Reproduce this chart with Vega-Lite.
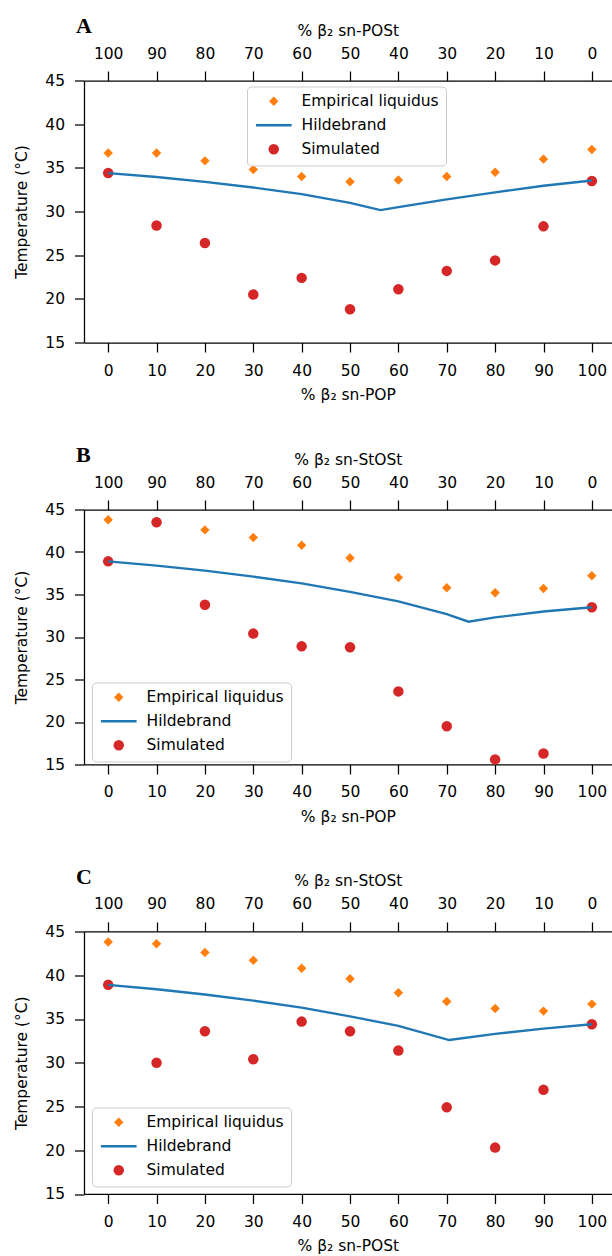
{
  "$schema": "https://vega.github.io/schema/vega-lite/v6.json",
  "padding": {"left": 14, "top": 14.5, "right": 0, "bottom": 0},
  "bounds": "flush",
  "spacing": 167,
  "background": "white",
  "config": {
    "view": {"stroke": null},
    "font": "DejaVu Sans",
    "axis": {
      "grid": false, "domainColor": "black", "tickColor": "black", "domainWidth": 1.25, "tickWidth": 1.25,
      "tickSize": 9.5, "labelPadding": 10, "labelFontSize": 15.5, "labelColor": "black", "labelFont": "DejaVu Sans",
      "titleFontSize": 15.5, "titleFontWeight": "normal", "titleColor": "black", "titleFont": "DejaVu Sans",
      "titlePadding": 9, "labelFlush": false, "labelOverlap": false
    },
    "axisLeft": {"titlePadding": 15},
    "axisBottom": {"labelPadding": 11, "titlePadding": 9},
    "axisTop": {"titlePadding": 8}
  },
  "datasets": {
    "pts": [
      {"panel": "A", "series": "Empirical liquidus", "x": 0, "t": 36.7},
      {"panel": "A", "series": "Empirical liquidus", "x": 10, "t": 36.7},
      {"panel": "A", "series": "Empirical liquidus", "x": 20, "t": 35.8},
      {"panel": "A", "series": "Empirical liquidus", "x": 30, "t": 34.8},
      {"panel": "A", "series": "Empirical liquidus", "x": 40, "t": 34.0},
      {"panel": "A", "series": "Empirical liquidus", "x": 50, "t": 33.4},
      {"panel": "A", "series": "Empirical liquidus", "x": 60, "t": 33.6},
      {"panel": "A", "series": "Empirical liquidus", "x": 70, "t": 34.0},
      {"panel": "A", "series": "Empirical liquidus", "x": 80, "t": 34.5},
      {"panel": "A", "series": "Empirical liquidus", "x": 90, "t": 36.0},
      {"panel": "A", "series": "Empirical liquidus", "x": 100, "t": 37.1},
      {"panel": "A", "series": "Simulated", "x": 0, "t": 34.4},
      {"panel": "A", "series": "Simulated", "x": 10, "t": 28.4},
      {"panel": "A", "series": "Simulated", "x": 20, "t": 26.4},
      {"panel": "A", "series": "Simulated", "x": 30, "t": 20.5},
      {"panel": "A", "series": "Simulated", "x": 40, "t": 22.4},
      {"panel": "A", "series": "Simulated", "x": 50, "t": 18.8},
      {"panel": "A", "series": "Simulated", "x": 60, "t": 21.1},
      {"panel": "A", "series": "Simulated", "x": 70, "t": 23.2},
      {"panel": "A", "series": "Simulated", "x": 80, "t": 24.4},
      {"panel": "A", "series": "Simulated", "x": 90, "t": 28.3},
      {"panel": "A", "series": "Simulated", "x": 100, "t": 33.5},
      {"panel": "B", "series": "Empirical liquidus", "x": 0, "t": 43.8},
      {"panel": "B", "series": "Empirical liquidus", "x": 10, "t": 43.6},
      {"panel": "B", "series": "Empirical liquidus", "x": 20, "t": 42.6},
      {"panel": "B", "series": "Empirical liquidus", "x": 30, "t": 41.7},
      {"panel": "B", "series": "Empirical liquidus", "x": 40, "t": 40.8},
      {"panel": "B", "series": "Empirical liquidus", "x": 50, "t": 39.3},
      {"panel": "B", "series": "Empirical liquidus", "x": 60, "t": 37.0},
      {"panel": "B", "series": "Empirical liquidus", "x": 70, "t": 35.8},
      {"panel": "B", "series": "Empirical liquidus", "x": 80, "t": 35.2},
      {"panel": "B", "series": "Empirical liquidus", "x": 90, "t": 35.7},
      {"panel": "B", "series": "Empirical liquidus", "x": 100, "t": 37.2},
      {"panel": "B", "series": "Simulated", "x": 0, "t": 38.9},
      {"panel": "B", "series": "Simulated", "x": 10, "t": 43.5},
      {"panel": "B", "series": "Simulated", "x": 20, "t": 33.8},
      {"panel": "B", "series": "Simulated", "x": 30, "t": 30.4},
      {"panel": "B", "series": "Simulated", "x": 40, "t": 28.9},
      {"panel": "B", "series": "Simulated", "x": 50, "t": 28.8},
      {"panel": "B", "series": "Simulated", "x": 60, "t": 23.6},
      {"panel": "B", "series": "Simulated", "x": 70, "t": 19.5},
      {"panel": "B", "series": "Simulated", "x": 80, "t": 15.6},
      {"panel": "B", "series": "Simulated", "x": 90, "t": 16.3},
      {"panel": "B", "series": "Simulated", "x": 100, "t": 33.5},
      {"panel": "C", "series": "Empirical liquidus", "x": 0, "t": 43.8},
      {"panel": "C", "series": "Empirical liquidus", "x": 10, "t": 43.6},
      {"panel": "C", "series": "Empirical liquidus", "x": 20, "t": 42.6},
      {"panel": "C", "series": "Empirical liquidus", "x": 30, "t": 41.7},
      {"panel": "C", "series": "Empirical liquidus", "x": 40, "t": 40.8},
      {"panel": "C", "series": "Empirical liquidus", "x": 50, "t": 39.6},
      {"panel": "C", "series": "Empirical liquidus", "x": 60, "t": 38.0},
      {"panel": "C", "series": "Empirical liquidus", "x": 70, "t": 37.0},
      {"panel": "C", "series": "Empirical liquidus", "x": 80, "t": 36.2},
      {"panel": "C", "series": "Empirical liquidus", "x": 90, "t": 35.9},
      {"panel": "C", "series": "Empirical liquidus", "x": 100, "t": 36.7},
      {"panel": "C", "series": "Simulated", "x": 0, "t": 38.9},
      {"panel": "C", "series": "Simulated", "x": 10, "t": 30.0},
      {"panel": "C", "series": "Simulated", "x": 20, "t": 33.6},
      {"panel": "C", "series": "Simulated", "x": 30, "t": 30.4},
      {"panel": "C", "series": "Simulated", "x": 40, "t": 34.7},
      {"panel": "C", "series": "Simulated", "x": 50, "t": 33.6},
      {"panel": "C", "series": "Simulated", "x": 60, "t": 31.4},
      {"panel": "C", "series": "Simulated", "x": 70, "t": 24.9},
      {"panel": "C", "series": "Simulated", "x": 80, "t": 20.3},
      {"panel": "C", "series": "Simulated", "x": 90, "t": 26.9},
      {"panel": "C", "series": "Simulated", "x": 100, "t": 34.4}
    ],
    "hb": [
      {"panel": "A", "series": "Hildebrand", "x": 0, "t": 34.4},
      {"panel": "A", "series": "Hildebrand", "x": 10, "t": 33.95},
      {"panel": "A", "series": "Hildebrand", "x": 20, "t": 33.4},
      {"panel": "A", "series": "Hildebrand", "x": 30, "t": 32.75},
      {"panel": "A", "series": "Hildebrand", "x": 40, "t": 32.0},
      {"panel": "A", "series": "Hildebrand", "x": 50, "t": 31.0},
      {"panel": "A", "series": "Hildebrand", "x": 56.3, "t": 30.15},
      {"panel": "A", "series": "Hildebrand", "x": 60, "t": 30.5},
      {"panel": "A", "series": "Hildebrand", "x": 70, "t": 31.4},
      {"panel": "A", "series": "Hildebrand", "x": 80, "t": 32.2},
      {"panel": "A", "series": "Hildebrand", "x": 90, "t": 32.95},
      {"panel": "A", "series": "Hildebrand", "x": 100, "t": 33.55},
      {"panel": "B", "series": "Hildebrand", "x": 0, "t": 38.9},
      {"panel": "B", "series": "Hildebrand", "x": 10, "t": 38.4},
      {"panel": "B", "series": "Hildebrand", "x": 20, "t": 37.8},
      {"panel": "B", "series": "Hildebrand", "x": 30, "t": 37.1},
      {"panel": "B", "series": "Hildebrand", "x": 40, "t": 36.3},
      {"panel": "B", "series": "Hildebrand", "x": 50, "t": 35.3},
      {"panel": "B", "series": "Hildebrand", "x": 60, "t": 34.2},
      {"panel": "B", "series": "Hildebrand", "x": 70, "t": 32.7},
      {"panel": "B", "series": "Hildebrand", "x": 74.5, "t": 31.8},
      {"panel": "B", "series": "Hildebrand", "x": 80, "t": 32.3},
      {"panel": "B", "series": "Hildebrand", "x": 90, "t": 33.0},
      {"panel": "B", "series": "Hildebrand", "x": 100, "t": 33.5},
      {"panel": "C", "series": "Hildebrand", "x": 0, "t": 38.9},
      {"panel": "C", "series": "Hildebrand", "x": 10, "t": 38.4},
      {"panel": "C", "series": "Hildebrand", "x": 20, "t": 37.8},
      {"panel": "C", "series": "Hildebrand", "x": 30, "t": 37.1},
      {"panel": "C", "series": "Hildebrand", "x": 40, "t": 36.3},
      {"panel": "C", "series": "Hildebrand", "x": 50, "t": 35.3},
      {"panel": "C", "series": "Hildebrand", "x": 60, "t": 34.2},
      {"panel": "C", "series": "Hildebrand", "x": 70.5, "t": 32.6},
      {"panel": "C", "series": "Hildebrand", "x": 80, "t": 33.3},
      {"panel": "C", "series": "Hildebrand", "x": 90, "t": 33.9},
      {"panel": "C", "series": "Hildebrand", "x": 100, "t": 34.4}
    ]
  },
  "resolve": {
    "scale": {"x": "independent", "y": "independent", "color": "independent", "shape": "independent"},
    "legend": {"color": "independent", "shape": "independent"}
  },
  "vconcat": [
    {
      "width": 527.7, "height": 262,
      "title": {"text": "A", "font": "Liberation Serif", "fontSize": 22, "fontWeight": "bold", "color": "black", "anchor": "start", "frame": "group", "dx": -8, "baseline": "alphabetic", "offset": -32},
      "layer": [
        {
          "data": {"name": "pts"},
          "transform": [{"filter": "datum.panel === 'A'"}],
          "mark": {"type": "point", "filled": true, "opacity": 1, "size": 110},
          "encoding": {
            "x": {"field": "x", "type": "quantitative", "scale": {"domain": [-5, 104.1], "nice": false, "zero": false},
                  "axis": {"orient": "bottom", "values": [0,10,20,30,40,50,60,70,80,90,100], "title": "% β₂ sn-POP"}},
            "y": {"field": "t", "type": "quantitative", "scale": {"domain": [15, 45], "nice": false, "zero": false},
                  "axis": {"values": [15,20,25,30,35,40,45], "title": "Temperature (°C)"}},
            "color": {"field": "series", "type": "nominal",
                      "scale": {"domain": ["Empirical liquidus", "Hildebrand", "Simulated"], "range": ["#ff7f0e", "#1f77b4", "#d62728"]},
                      "legend": {"orient": "none", "legendX": 163, "legendY": 6, "title": null, "padding": 7,
                                 "fillColor": "rgba(255,255,255,0.85)", "strokeColor": "#cccccc", "cornerRadius": 4,
                                 "labelFontSize": 15.5, "labelFont": "DejaVu Sans", "labelColor": "black",
                                 "symbolSize": 110, "symbolOffset": 12, "labelOffset": 20, "rowPadding": 7, "symbolOpacity": 1,
                                 "encode": {"symbols": {"update": {"stroke": {"signal": "datum.value === 'Hildebrand' ? '#1f77b4' : 'transparent'"}, "strokeWidth": {"signal": "datum.value === 'Hildebrand' ? 2.3 : 0"}}}}}},
            "shape": {"field": "series", "type": "nominal",
                      "scale": {"domain": ["Empirical liquidus", "Hildebrand", "Simulated"], "range": ["M0,-0.9L0.9,0L0,0.9L-0.9,0Z", "M-3.4,0L3.4,0", "circle"]}}
          }
        },
        {
          "data": {"name": "hb"},
          "transform": [{"filter": "datum.panel === 'A'"}],
          "mark": {"type": "line", "strokeWidth": 2.3},
          "encoding": {
            "x": {"field": "x", "type": "quantitative",
                  "axis": {"orient": "top", "values": [0,10,20,30,40,50,60,70,80,90,100], "labelExpr": "100 - datum.value", "title": "% β₂ sn-POSt"}},
            "y": {"field": "t", "type": "quantitative"},
            "color": {"field": "series", "type": "nominal"}
          }
        }
      ],
      "resolve": {"axis": {"x": "independent"}}
    },
    {
      "width": 527.7, "height": 255,
      "title": {"text": "B", "font": "Liberation Serif", "fontSize": 22, "fontWeight": "bold", "color": "black", "anchor": "start", "frame": "group", "dx": -8, "baseline": "alphabetic", "offset": -32},
      "layer": [
        {
          "data": {"name": "pts"},
          "transform": [{"filter": "datum.panel === 'B'"}],
          "mark": {"type": "point", "filled": true, "opacity": 1, "size": 110},
          "encoding": {
            "x": {"field": "x", "type": "quantitative", "scale": {"domain": [-5, 104.1], "nice": false, "zero": false},
                  "axis": {"orient": "bottom", "values": [0,10,20,30,40,50,60,70,80,90,100], "title": "% β₂ sn-POP"}},
            "y": {"field": "t", "type": "quantitative", "scale": {"domain": [15, 45], "nice": false, "zero": false},
                  "axis": {"values": [15,20,25,30,35,40,45], "title": "Temperature (°C)"}},
            "color": {"field": "series", "type": "nominal",
                      "scale": {"domain": ["Empirical liquidus", "Hildebrand", "Simulated"], "range": ["#ff7f0e", "#1f77b4", "#d62728"]},
                      "legend": {"orient": "none", "legendX": 8, "legendY": 173, "title": null, "padding": 7,
                                 "fillColor": "rgba(255,255,255,0.85)", "strokeColor": "#cccccc", "cornerRadius": 4,
                                 "labelFontSize": 15.5, "labelFont": "DejaVu Sans", "labelColor": "black",
                                 "symbolSize": 110, "symbolOffset": 12, "labelOffset": 20, "rowPadding": 7, "symbolOpacity": 1,
                                 "encode": {"symbols": {"update": {"stroke": {"signal": "datum.value === 'Hildebrand' ? '#1f77b4' : 'transparent'"}, "strokeWidth": {"signal": "datum.value === 'Hildebrand' ? 2.3 : 0"}}}}}},
            "shape": {"field": "series", "type": "nominal",
                      "scale": {"domain": ["Empirical liquidus", "Hildebrand", "Simulated"], "range": ["M0,-0.9L0.9,0L0,0.9L-0.9,0Z", "M-3.4,0L3.4,0", "circle"]}}
          }
        },
        {
          "data": {"name": "hb"},
          "transform": [{"filter": "datum.panel === 'B'"}],
          "mark": {"type": "line", "strokeWidth": 2.3},
          "encoding": {
            "x": {"field": "x", "type": "quantitative",
                  "axis": {"orient": "top", "values": [0,10,20,30,40,50,60,70,80,90,100], "labelExpr": "100 - datum.value", "title": "% β₂ sn-StOSt"}},
            "y": {"field": "t", "type": "quantitative"},
            "color": {"field": "series", "type": "nominal"}
          }
        }
      ],
      "resolve": {"axis": {"x": "independent"}}
    },
    {
      "width": 527.7, "height": 262.5,
      "title": {"text": "C", "font": "Liberation Serif", "fontSize": 22, "fontWeight": "bold", "color": "black", "anchor": "start", "frame": "group", "dx": -8, "baseline": "alphabetic", "offset": -32},
      "layer": [
        {
          "data": {"name": "pts"},
          "transform": [{"filter": "datum.panel === 'C'"}],
          "mark": {"type": "point", "filled": true, "opacity": 1, "size": 110},
          "encoding": {
            "x": {"field": "x", "type": "quantitative", "scale": {"domain": [-5, 104.1], "nice": false, "zero": false},
                  "axis": {"orient": "bottom", "values": [0,10,20,30,40,50,60,70,80,90,100], "title": "% β₂ sn-POSt"}},
            "y": {"field": "t", "type": "quantitative", "scale": {"domain": [15, 45], "nice": false, "zero": false},
                  "axis": {"values": [15,20,25,30,35,40,45], "title": "Temperature (°C)"}},
            "color": {"field": "series", "type": "nominal",
                      "scale": {"domain": ["Empirical liquidus", "Hildebrand", "Simulated"], "range": ["#ff7f0e", "#1f77b4", "#d62728"]},
                      "legend": {"orient": "none", "legendX": 8, "legendY": 176, "title": null, "padding": 7,
                                 "fillColor": "rgba(255,255,255,0.85)", "strokeColor": "#cccccc", "cornerRadius": 4,
                                 "labelFontSize": 15.5, "labelFont": "DejaVu Sans", "labelColor": "black",
                                 "symbolSize": 110, "symbolOffset": 12, "labelOffset": 20, "rowPadding": 7, "symbolOpacity": 1,
                                 "encode": {"symbols": {"update": {"stroke": {"signal": "datum.value === 'Hildebrand' ? '#1f77b4' : 'transparent'"}, "strokeWidth": {"signal": "datum.value === 'Hildebrand' ? 2.3 : 0"}}}}}},
            "shape": {"field": "series", "type": "nominal",
                      "scale": {"domain": ["Empirical liquidus", "Hildebrand", "Simulated"], "range": ["M0,-0.9L0.9,0L0,0.9L-0.9,0Z", "M-3.4,0L3.4,0", "circle"]}}
          }
        },
        {
          "data": {"name": "hb"},
          "transform": [{"filter": "datum.panel === 'C'"}],
          "mark": {"type": "line", "strokeWidth": 2.3},
          "encoding": {
            "x": {"field": "x", "type": "quantitative",
                  "axis": {"orient": "top", "values": [0,10,20,30,40,50,60,70,80,90,100], "labelExpr": "100 - datum.value", "title": "% β₂ sn-StOSt"}},
            "y": {"field": "t", "type": "quantitative"},
            "color": {"field": "series", "type": "nominal"}
          }
        }
      ],
      "resolve": {"axis": {"x": "independent"}}
    }
  ]
}
